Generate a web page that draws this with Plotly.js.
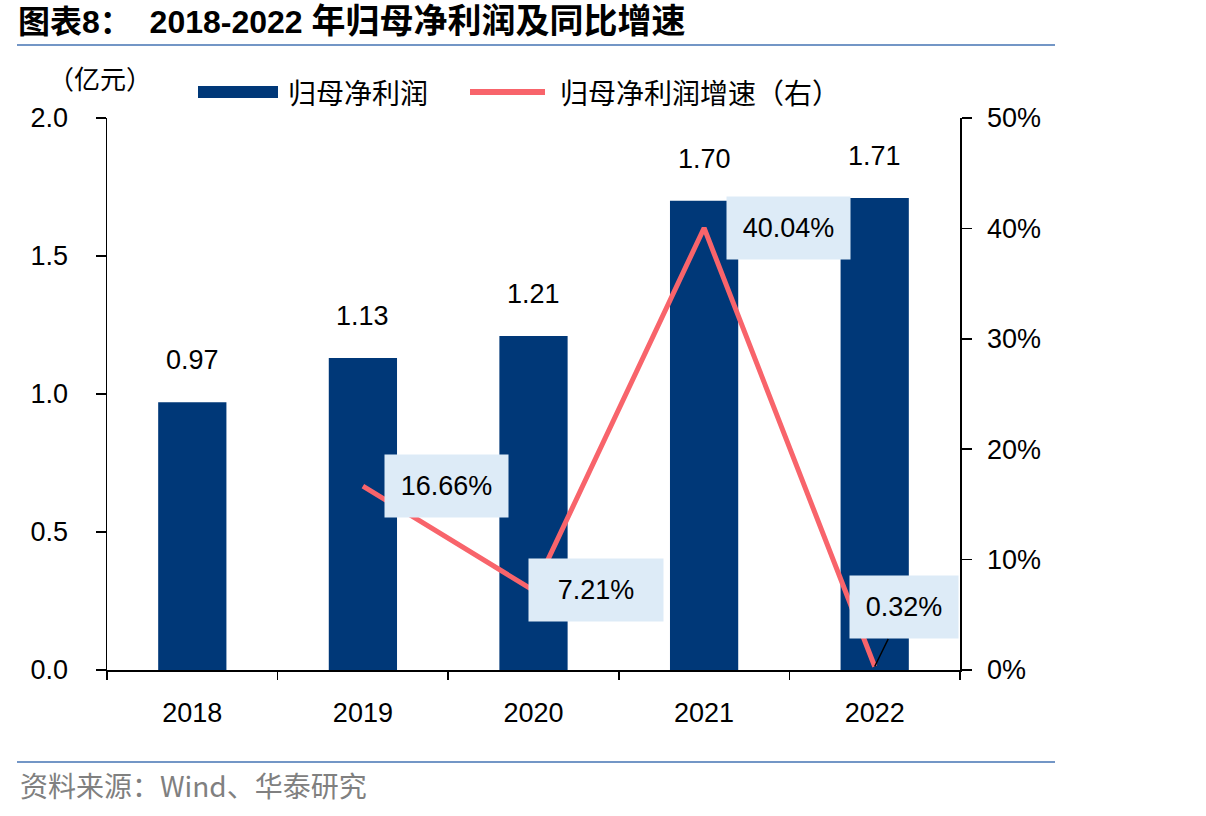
<!DOCTYPE html>
<html><head><meta charset="utf-8">
<script src="https://cdn.plot.ly/plotly-3.0.1.min.js"></script>
<style>body{margin:0;background:#fff}#c{width:1206px;height:816px}</style>
</head><body><div id="c"></div>
<script>
const years = ['2018','2019','2020','2021','2022'];
const profit = [0.97, 1.13, 1.21, 1.70, 1.71];
const growthYears = ['2019','2020','2021','2022'];
const growth = [0.1666, 0.0721, 0.4004, 0.0032];
const growthLabels = ['16.66%','7.21%','40.04%','0.32%'];

const FONT = 'Liberation Sans, Arial, Noto Sans CJK SC, sans-serif';
const CJK = 'Noto Sans CJK SC, Liberation Sans, sans-serif';
const BAR = '#003878';
const LINE = '#F8646B';
const BOX = '#DDEBF7';
const FS = 27;

const traces = [
  {type:'bar', x:years, y:profit, name:'归母净利润', marker:{color:BAR}, width:0.4, hoverinfo:'skip'},
  {type:'scatter', mode:'lines', x:growthYears, y:growth, yaxis:'y2', name:'归母净利润增速（右）',
   line:{color:LINE, width:5}, cliponaxis:false, hoverinfo:'skip'}
];

const annotations = [];
years.forEach((yr,i)=>annotations.push({x:years.indexOf(yr), y:profit[i], xref:'x', yref:'y', text:profit[i].toFixed(2),
  showarrow:false, xanchor:'center', yanchor:'middle', yshift:42, font:{family:FONT, size:FS, color:'#000'}}));
// label box styling (pixel offsets / sizes)
const boxStyle = [{dx:84, w:95}, {dx:62, w:106}, {dx:84, w:95}, {ax:29, ay:-59, w:80}];
growthYears.forEach((yr,i)=>{
  const s = boxStyle[i];
  const a = {x:years.indexOf(yr), y:growth[i], xref:'x', yref:'y2', text:growthLabels[i], bgcolor:BOX, borderpad:14,
    width:s.w, height:34, font:{family:FONT, size:FS, color:'#000'}};
  if(s.ax===undefined){ a.showarrow=false; a.xanchor='center'; a.yanchor='middle'; a.xshift=s.dx; }
  else { a.showarrow=true; a.arrowhead=0; a.arrowwidth=1.5; a.arrowcolor='#000'; a.ax=s.ax; a.ay=s.ay; }
  annotations.push(a);
});
const px = v => (v-107)/853, py = v => (670-v)/552;
annotations.push({xref:'paper', yref:'paper', x:px(100), y:py(77), xanchor:'center', yanchor:'middle', text:'（亿元）', showarrow:false,
  font:{family:CJK, size:26, color:'#000'}});
annotations.push({xref:'paper', yref:'paper', x:px(286), y:py(92), xanchor:'left', yanchor:'middle', text:'归母净利润', showarrow:false,
  font:{family:CJK, size:28, color:'#000'}});
annotations.push({xref:'paper', yref:'paper', x:px(558), y:py(92), xanchor:'left', yanchor:'middle', text:'归母净利润增速（右）', showarrow:false,
  font:{family:CJK, size:28, color:'#000'}});
annotations.push({xref:'paper', yref:'paper', x:px(18), y:py(785), xanchor:'left', yanchor:'middle', text:'资料来源：Wind、华泰研究', showarrow:false,
  font:{family:CJK, size:28, color:'#808080'}});

const shapes = [
  {type:'line', xref:'paper', yref:'paper', x0:px(17), x1:px(1055), y0:py(45), y1:py(45), line:{color:'#7396C6', width:2}},
  {type:'line', xref:'paper', yref:'paper', x0:px(17), x1:px(1055), y0:py(762), y1:py(762), line:{color:'#7396C6', width:2}},
  {type:'rect', xref:'paper', yref:'paper', x0:px(198), x1:px(278), y0:py(98), y1:py(86), fillcolor:BAR, line:{width:0}},
  {type:'line', xref:'paper', yref:'paper', x0:px(470), x1:px(545), y0:py(92), y1:py(92), line:{color:LINE, width:6}}
];

const layout = {
  width:1206, height:816, paper_bgcolor:'#fff', plot_bgcolor:'#fff',
  margin:{l:107, r:246, t:118, b:146},
  showlegend:false,
  title:{text:'<b>图表8：  2018-2022 <span style="font-size:34px">年归母净利润及同比增速</span></b>', x:18/1206, xanchor:'left', xref:'container',
    y:1-22/816, yref:'container', yanchor:'middle', font:{family:FONT, size:32, color:'#000'}},
  xaxis:{type:'category', showline:true, linecolor:'#000', linewidth:1.5, ticks:'outside', tickson:'boundaries',
    ticklen:8, tickcolor:'#000', tickwidth:1.5, showgrid:false, zeroline:false, ticklabelstandoff:18,
    tickfont:{family:FONT, size:FS, color:'#000'}, range:[-0.5,4.5]},
  yaxis:{range:[0,2], dtick:0.5, tickformat:'.1f', showline:true, linecolor:'#000', linewidth:1.5, ticks:'outside',
    ticklen:10, tickcolor:'#000', tickwidth:1.5, showgrid:false, zeroline:false, ticklabelstandoff:22,
    tickfont:{family:FONT, size:FS, color:'#000'}},
  yaxis2:{range:[0,0.5], dtick:0.1, tickformat:'.0%', overlaying:'y', side:'right', showline:true, linecolor:'#000',
    linewidth:1.5, ticks:'outside', ticklen:10, tickcolor:'#000', tickwidth:1.5, showgrid:false, zeroline:false,
    ticklabelstandoff:10, tickfont:{family:FONT, size:FS, color:'#000'}},
  annotations:annotations, shapes:shapes
};
Plotly.newPlot('c', traces, layout, {staticPlot:true});
</script></body></html>
